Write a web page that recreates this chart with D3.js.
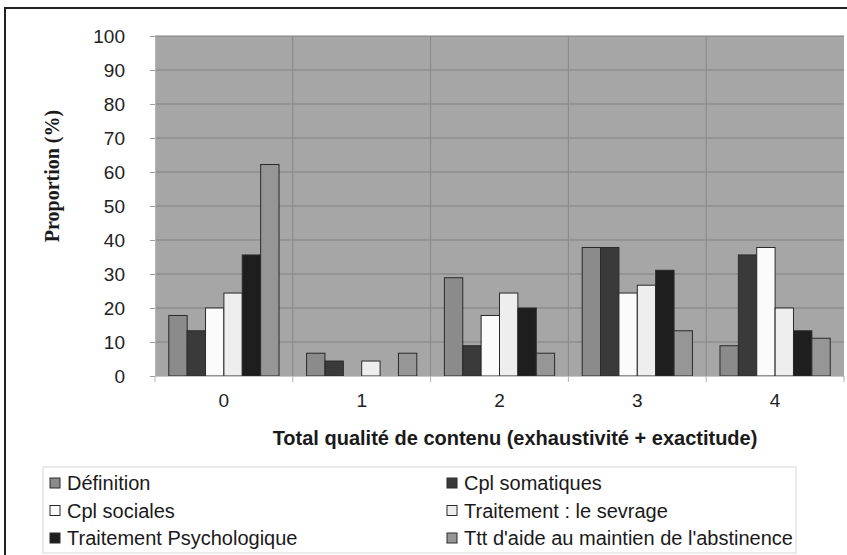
<!DOCTYPE html>
<html lang="fr">
<head>
<meta charset="UTF-8">
<script src="https://d3js.org/d3.v7.min.js"></script>
<title>Proportion</title>
<style>
  body { margin: 0; background: #fff; }
</style>
</head>
<body>
<div id="vis"></div>
<script>
    // categories on the x axis
    var categories = ["0", "1", "2", "3", "4"];
    // series names (legend order)
    var seriesNames = ["Définition", "Cpl somatiques", "Cpl sociales",
                       "Traitement : le sevrage", "Traitement Psychologique",
                       "Ttt d'aide au maintien de l'abstinence"];
    // values per series, one per category (%)
    var definition   = [17.8, 6.7, 28.9, 37.8, 8.9];
    var somatiques   = [13.3, 4.4, 8.9, 37.8, 35.6];
    var sociales     = [20.0, 0, 17.8, 24.4, 37.8];
    var sevrage      = [24.4, 4.4, 24.4, 26.7, 20.0];
    var psycho       = [35.6, 0, 20.0, 31.1, 13.3];
    var abstinence   = [62.2, 6.7, 6.7, 13.3, 11.1];
    var yTicks = [0, 10, 20, 30, 40, 50, 60, 70, 80, 90, 100];

    var seriesValues = [definition, somatiques, sociales, sevrage, psycho, abstinence];
    var colors = ["#8b8b8b", "#3a3a3a", "#fbfbfb", "#eeeeee", "#1e1e1e", "#969696"];

    var width = 847, height = 555,
        plot = {left: 155, right: 844, top: 36, bottom: 376};

    var svg = d3.select("#vis").append("svg")
        .attr("width", width).attr("height", height)
        .style("font-family", "Arial, 'Liberation Sans', sans-serif");

    // outer chart border
    svg.append("rect")
        .attr("x", 5).attr("y", 8)
        .attr("width", 900).attr("height", 600)
        .style("fill", "#fff").style("stroke", "#222").style("stroke-width", 2);

    var x = d3.scaleBand().domain(categories).range([plot.left, plot.right]).padding(0);
    var xs = d3.scaleBand().domain(d3.range(seriesNames.length))
        .range([0, x.bandwidth()]).paddingInner(0).paddingOuter(0.75);
    var y = d3.scaleLinear().domain([0, 100]).range([plot.bottom, plot.top]);

    // plot background
    svg.append("rect")
        .attr("x", plot.left).attr("y", plot.top)
        .attr("width", plot.right - plot.left).attr("height", plot.bottom - plot.top)
        .style("fill", "#a6a6a6");

    // horizontal gridlines
    svg.append("g").selectAll("line").data(yTicks.slice(1)).enter().append("line")
        .attr("x1", plot.left).attr("x2", plot.right)
        .attr("y1", function(d){ return y(d); }).attr("y2", function(d){ return y(d); })
        .style("stroke", "#818181").style("stroke-width", 1);

    // vertical gridlines at category boundaries
    svg.append("g").selectAll("line").data(categories.slice(1)).enter().append("line")
        .attr("x1", function(d){ return x(d); }).attr("x2", function(d){ return x(d); })
        .attr("y1", plot.top).attr("y2", plot.bottom)
        .style("stroke", "#888").style("stroke-width", 1);

    // bars
    var groups = svg.append("g").selectAll("g").data(categories).enter().append("g")
        .attr("transform", function(d){ return "translate(" + x(d) + ",0)"; });

    groups.selectAll("rect")
        .data(function(c, ci){ return seriesValues.map(function(s, si){ return {s: si, v: s[ci]}; }); })
        .enter().filter(function(d){ return d.v > 0; }).append("rect")
        .attr("x", function(d){ return xs(d.s); })
        .attr("width", xs.bandwidth())
        .attr("y", function(d){ return y(d.v); })
        .attr("height", function(d){ return y(0) - y(d.v); })
        .style("fill", function(d){ return colors[d.s]; })
        .style("stroke", "#2a2a2a").style("stroke-width", 1);

    // y axis
    var yAxis = svg.append("g")
        .attr("transform", "translate(" + plot.left + ",0)")
        .call(d3.axisLeft(y).tickValues(yTicks).tickSize(5).tickPadding(25));
    yAxis.select(".domain").style("stroke", "#b5b5b5");
    yAxis.selectAll(".tick line").style("stroke", "#9a9a9a");
    yAxis.selectAll("text").style("font-size", "19px").style("fill", "#222")
        .style("font-family", "Arial, 'Liberation Sans', sans-serif");

    // x axis
    var xAxis = svg.append("g")
        .attr("transform", "translate(0," + plot.bottom + ")")
        .call(d3.axisBottom(x).tickSize(0).tickPadding(18));
    xAxis.select(".domain").style("stroke", "#c8c8c8");
    xAxis.selectAll("text").style("font-size", "19px").style("fill", "#222")
        .style("font-family", "Arial, 'Liberation Sans', sans-serif");
    svg.append("g").selectAll("line").data(categories.concat(["end"])).enter().append("line")
        .attr("x1", function(d){ return d === "end" ? plot.right : x(d); })
        .attr("x2", function(d){ return d === "end" ? plot.right : x(d); })
        .attr("y1", plot.bottom).attr("y2", plot.bottom + 6)
        .style("stroke", "#b0b0b0");

    // axis titles
    svg.append("text")
        .attr("x", 515).attr("y", 445)
        .attr("text-anchor", "middle")
        .style("font-size", "20px").style("font-weight", "bold").style("fill", "#1a1a1a")
        .text("Total qualité de contenu (exhaustivité + exactitude)");

    svg.append("text")
        .attr("transform", "translate(59,176) rotate(-90)")
        .attr("text-anchor", "middle")
        .style("font-family", "'Liberation Serif', 'Times New Roman', serif")
        .style("font-size", "20px").style("font-weight", "bold").style("fill", "#1a1a1a")
        .text("Proportion (%)");

    // legend
    svg.append("rect")
        .attr("x", 43).attr("y", 467).attr("width", 753).attr("height", 86)
        .style("fill", "#fff").style("stroke", "#d6d6d6").style("stroke-width", 1);

    var legend = svg.append("g").selectAll("g").data(seriesNames).enter().append("g")
        .attr("transform", function(d, i){
            return "translate(" + (i % 2 === 0 ? 50 : 447) + "," + (483 + Math.floor(i / 2) * 27.5) + ")";
        });
    legend.append("rect")
        .attr("x", 0).attr("y", -5).attr("width", 10).attr("height", 10)
        .style("fill", function(d, i){ return colors[i]; })
        .style("stroke", "#2a2a2a").style("stroke-width", 1);
    legend.append("text")
        .attr("x", 17).attr("y", 7)
        .style("font-size", "20px").style("fill", "#1a1a1a")
        .text(function(d){ return d; });
</script>
</body>
</html>
